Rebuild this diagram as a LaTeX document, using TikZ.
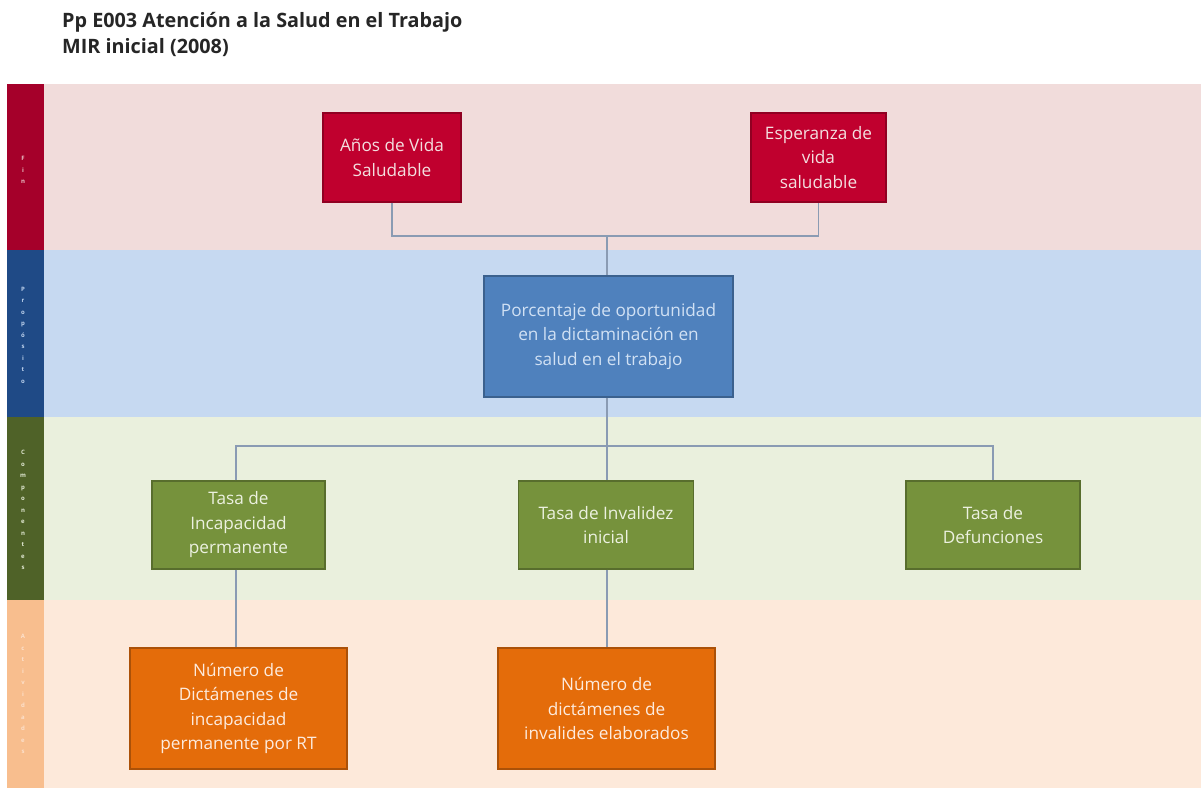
\documentclass[tikz,border=0pt]{standalone}
\usepackage{fontspec}
\setmainfont{Open Sans}
\begin{document}
\begin{tikzpicture}[x=1pt,y=-1pt,
  box/.style={draw, line width=1.3pt, align=center, inner sep=2pt,
    font=\fontsize{17.2}{24.5}\selectfont},
  finbox/.style={box, fill=finfill, draw=finfill!75!black, text=finband!90!white},
  propbox/.style={box, fill=propfill, draw=propfill!75!black, text=propband!80!white},
  compbox/.style={box, fill=compfill, draw=compfill!75!black, text=compband!90!white},
  actbox/.style={box, fill=actfill, draw=actfill!75!black, text=actband!90!white},
  link/.style={draw=linkc, line width=1.4pt},
  sidelabel/.style={align=center, font=\fontsize{6}{11.5}\selectfont\bfseries, inner sep=0pt},
  titletext/.style={anchor=west, text=titlec, inner sep=0pt,
    font=\fontsize{19.8}{26}\selectfont\bfseries}
]
\definecolor{finbar}{HTML}{A5002A}
\definecolor{finband}{HTML}{F1DCDB}
\definecolor{finfill}{HTML}{C0002E}
\definecolor{propbar}{HTML}{1F4A86}
\definecolor{propband}{HTML}{C6D9F1}
\definecolor{propfill}{HTML}{4F81BD}
\definecolor{compbar}{HTML}{4F6228}
\definecolor{compband}{HTML}{EAF0DD}
\definecolor{compfill}{HTML}{76923C}
\definecolor{actbar}{HTML}{F8BE8E}
\definecolor{actband}{HTML}{FDE9DA}
\definecolor{actfill}{HTML}{E46C0A}
\definecolor{linkc}{HTML}{8A9BB3}
\definecolor{titlec}{HTML}{262626}

% page
\fill[white] (0,0) rectangle (1201,788);
\useasboundingbox (0,0) rectangle (1201,788);

% title
\node[titletext] (t1) at (62,22) {Pp E003 Atención a la Salud en el Trabajo};
\node[titletext] (t2) at (62,48) {MIR inicial (2008)};

% level bands
\fill[finband]  (44,84)  rectangle (1201,250);
\fill[propband] (44,250) rectangle (1201,417);
\fill[compband] (44,417) rectangle (1201,600);
\fill[actband]  (44,600) rectangle (1201,788);

% level bars with stacked labels
\fill[finbar]  (7,84)  rectangle (44,250);
\fill[propbar] (7,250) rectangle (44,417);
\fill[compbar] (7,417) rectangle (44,600);
\fill[actbar]  (7,600) rectangle (44,788);
\node[sidelabel, text=finband!90!finbar]  (s1) at (23,170) {F\\i\\n};
\node[sidelabel, text=propband!95!propbar] (s2) at (23,335) {P\\r\\o\\p\\ó\\s\\i\\t\\o};
\node[sidelabel, text=compband!95!compbar] (s3) at (23,510) {C\\o\\m\\p\\o\\n\\e\\n\\t\\e\\s};
\node[sidelabel, text=actband!80!actbar]  (s4) at (23,694) {A\\c\\t\\i\\v\\i\\d\\a\\d\\e\\s};

% Fin
\node[finbox, minimum width=138, minimum height=89] (a1) at (392,157.5)
  {Años de Vida\\Saludable};
\node[finbox, minimum width=135, minimum height=89] (a2) at (818.5,157.5)
  {Esperanza de\\vida\\saludable};

% Propósito
\node[propbox, minimum width=249, minimum height=121] (p) at (608.5,336.5)
  {Porcentaje de oportunidad\\en la dictaminación en\\salud en el trabajo};

% Componentes
\node[compbox, minimum width=173, minimum height=88] (c1) at (238.5,525)
  {Tasa de\\Incapacidad\\permanente};
\node[compbox, minimum width=175, minimum height=88] (c2) at (606,525)
  {Tasa de Invalidez\\inicial};
\node[compbox, minimum width=174, minimum height=88] (c3) at (993,525)
  {Tasa de\\Defunciones};

% Actividades
\node[actbox, minimum width=217, minimum height=121] (d1) at (238.5,708.5)
  {Número de\\Dictámenes de\\incapacidad\\permanente por RT};
\node[actbox, minimum width=217, minimum height=121] (d2) at (606.5,708.5)
  {Número de\\dictámenes de\\invalides elaborados};

% connectors
\coordinate (jf) at (607,236);
\coordinate (jc) at (607,446);
\path[link] (a1.south) |- (jf) -| (a2.south);
\path[link] (jf) -- (p.north -| jf);
\path[link] (p.south -| jc) -- (jc);
\path[link] (c1.north -| 236,0) |- (jc) -| (c3.north);
\path[link] (jc) -- (c2.north -| jc);
\path[link] (c1.south -| 236,0) -- (d1.north -| 236,0);
\path[link] (c2.south -| jc) -- (d2.north -| jc);
\end{tikzpicture}
\end{document}
